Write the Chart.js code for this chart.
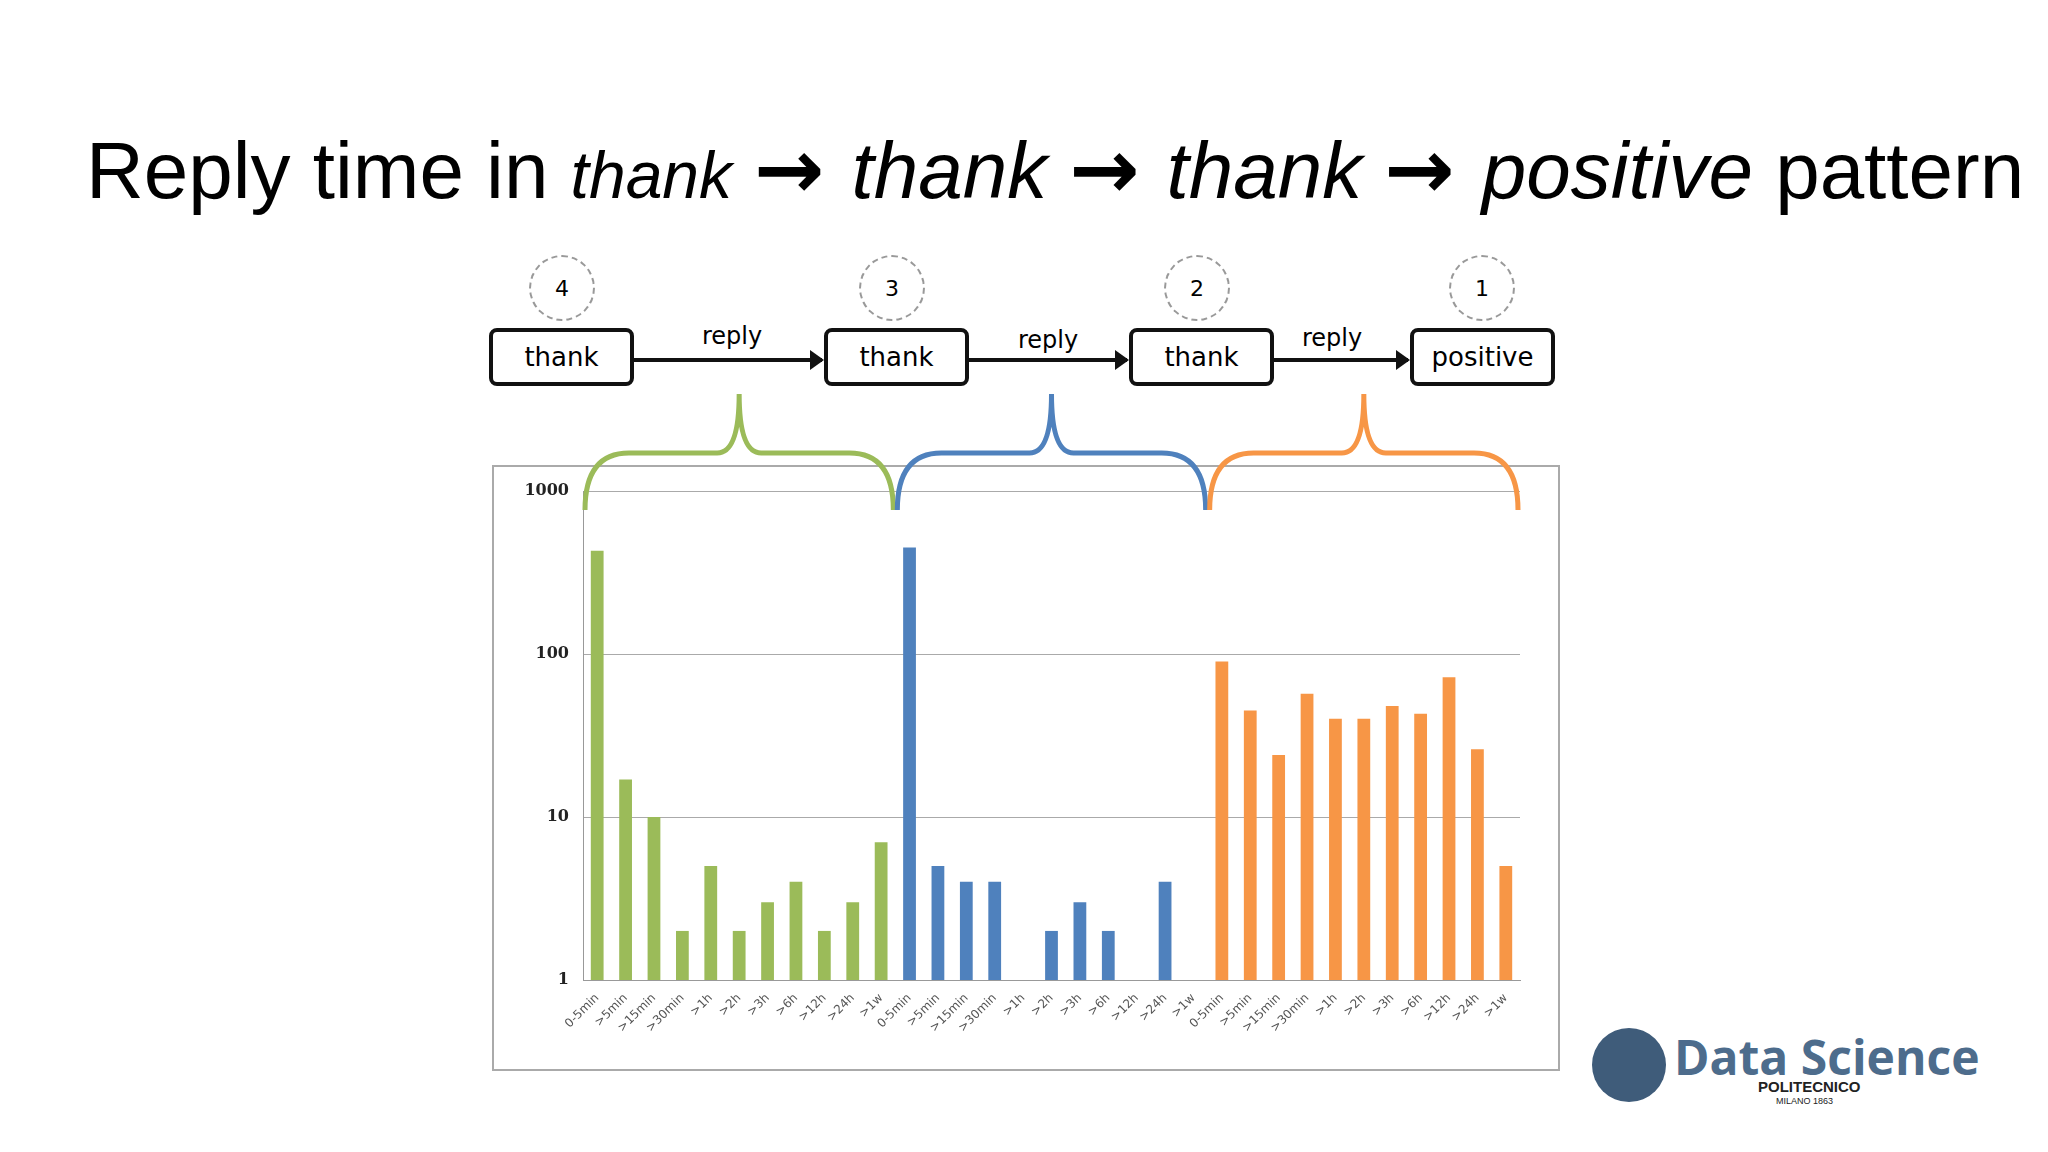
<!DOCTYPE html>
<html><head><meta charset="utf-8">
<script src="https://cdn.jsdelivr.net/npm/chart.js@4"></script>
<style>
body{margin:0;width:2048px;height:1152px;background:#fff;position:relative;overflow:hidden;font-family:"Liberation Sans",Arial,sans-serif}
#title{position:absolute;left:86px;top:120px;font-size:80px;white-space:nowrap;color:#000}
#title i{font-style:italic}
#title b{font-weight:bold;font-family:"DejaVu Sans",sans-serif;font-size:84px;margin:0 27px 0 22px}
.node{position:absolute;top:328px;height:58px;border:4px solid #111;border-radius:8px;font:26px "DejaVu Sans",sans-serif;display:flex;align-items:center;justify-content:center;box-sizing:border-box}
.circ{position:absolute;width:66px;height:66px;border:2px dashed #999;border-radius:50%;font:22px "DejaVu Sans",sans-serif;display:flex;align-items:center;justify-content:center;box-sizing:border-box}
.arrow{position:absolute;top:358px;height:4px;background:#111}
.arrow:after{content:"";position:absolute;right:-2px;top:-8px;border-left:14px solid #111;border-top:10px solid transparent;border-bottom:10px solid transparent}
.rep{position:absolute;top:322px;font:24px "DejaVu Sans",sans-serif}
#box{position:absolute;left:492px;top:465px;width:1068px;height:606px;border:2px solid #aaa;box-sizing:border-box}
#wrap{position:absolute;left:490px;top:380px;width:1070px;height:691px}
#logo{position:absolute;left:1592px;top:1028px;width:74px;height:74px;border-radius:50%;background:#3f5c7a}
#ds{position:absolute;left:1674px;top:1024px;font:bold 48px "Open Sans",sans-serif;color:#4d6c8c}
#pol{position:absolute;left:1758px;top:1078px;font:bold 15px "Liberation Sans",sans-serif;color:#222}
#mil{position:absolute;left:1776px;top:1096px;font:9px "Liberation Sans",sans-serif;color:#222}
</style></head><body>
<div id="title">Reply time in <i style="font-size:66px">thank</i><b>&#x2192;</b><i>thank</i><b>&#x2192;</b><i>thank</i><b>&#x2192;</b><i>positive</i> pattern</div>
<div class="circ" style="left:529px;top:255px">4</div>
<div class="circ" style="left:859px;top:255px">3</div>
<div class="circ" style="left:1164px;top:255px">2</div>
<div class="circ" style="left:1449px;top:255px">1</div>
<div class="node" style="left:489px;width:145px">thank</div>
<div class="node" style="left:824px;width:145px">thank</div>
<div class="node" style="left:1129px;width:145px">thank</div>
<div class="node" style="left:1410px;width:145px">positive</div>
<div class="arrow" style="left:634px;width:188px"></div>
<div class="arrow" style="left:969px;width:158px"></div>
<div class="arrow" style="left:1274px;width:134px"></div>
<div class="rep" style="left:702px">reply</div>
<div class="rep" style="left:1018px;top:326px">reply</div>
<div class="rep" style="left:1302px;top:324px">reply</div>
<div id="box"></div>
<div id="wrap"><canvas id="c"></canvas></div>
<div id="logo"></div><div id="ds">Data Science</div>
<div id="pol">POLITECNICO</div><div id="mil">MILANO 1863</div>
<script>
const buckets = ["0-5min", ">5min", ">15min", ">30min", ">1h", ">2h", ">3h", ">6h", ">12h", ">24h", ">1w"];
const greenVals = [430, 17, 10, 2, 5, 2, 3, 4, 2, 3, 7];
const blueVals = [450, 5, 4, 4, null, 2, 3, 2, null, 4, null];
const orangeVals = [90, 45, 24, 57, 40, 40, 48, 43, 72, 26, 5];
const yTicks = [1, 10, 100, 1000];
const groupColors = ["#9bbb59", "#4f81bd", "#f79646"];

const labels = [...buckets, ...buckets, ...buckets];
const data = [...greenVals, ...blueVals, ...orangeVals];
const colors = labels.map((_, i) => groupColors[Math.floor(i / buckets.length)]);

const braces = {
  id: "braces",
  afterDraw(chart) {
    const ctx = chart.ctx, x = chart.scales.x;
    const half = (x.getPixelForValue(1) - x.getPixelForValue(0)) / 2;
    const yBody = 73, yTip = 14, yEnd = 130, r = 22;
    groupColors.forEach((col, g) => {
      const a = x.getPixelForValue(g * buckets.length) - half + 2;
      const b = x.getPixelForValue(g * buckets.length + buckets.length - 1) + half - 2;
      const m = (a + b) / 2;
      ctx.save();
      ctx.strokeStyle = col; ctx.lineWidth = 5;
      ctx.beginPath();
      ctx.moveTo(a, yEnd);
      ctx.quadraticCurveTo(a, yBody, a + r * 2, yBody);
      ctx.lineTo(m - r, yBody);
      ctx.quadraticCurveTo(m, yBody, m, yTip);
      ctx.quadraticCurveTo(m, yBody, m + r, yBody);
      ctx.lineTo(b - r * 2, yBody);
      ctx.quadraticCurveTo(b, yBody, b, yEnd);
      ctx.stroke();
      ctx.restore();
    });
  }
};

new Chart(document.getElementById("c"), {
  type: "bar",
  data: { labels, datasets: [{ data, backgroundColor: colors, barPercentage: 0.45, categoryPercentage: 1 }] },
  plugins: [braces],
  options: {
    responsive: true, maintainAspectRatio: false, animation: false,
    layout: { padding: { top: 111, right: 40, left: 0, bottom: 0 } },
    plugins: { legend: { display: false }, tooltip: { enabled: false } },
    scales: {
      x: {
        grid: { display: false, drawTicks: true, tickColor: "#999" },
        border: { color: "#999" },
        ticks: { maxRotation: 45, minRotation: 45, autoSkip: false, color: "#555", font: { size: 12, family: "DejaVu Sans" } },
        afterFit: (s) => { s.height = 91; }
      },
      y: {
        type: "logarithmic", min: 1, max: 1000,
        grid: { color: "#aaa", drawTicks: false },
        border: { display: true, color: "#999" },
        ticks: { color: "#222", padding: 14, font: { size: 16, weight: "bold", family: "DejaVu Serif" },
          callback: (v) => yTicks.includes(v) ? String(v) : "" },
        afterBuildTicks: (s) => { s.ticks = yTicks.map((v) => ({ value: v })); },
        afterFit: (s) => { s.width = 93; }
      }
    }
  }
});
</script>
</body></html>
